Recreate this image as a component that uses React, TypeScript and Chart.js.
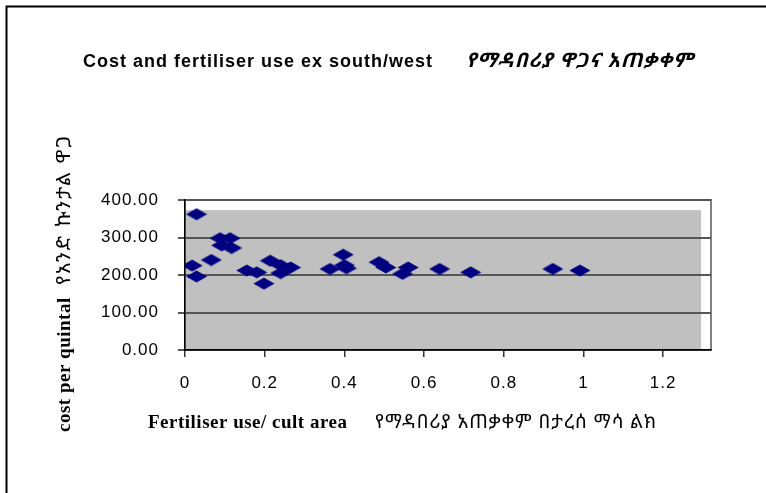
import React, { useEffect, useRef } from "react";
import { Chart, registerables } from "chart.js";

Chart.register(...registerables);

// ---- data ----
const fertiliserUse = [
  0.029, 0.018, 0.029, 0.066, 0.088, 0.113, 0.092, 0.117, 0.155, 0.18, 0.198,
  0.214, 0.24, 0.265, 0.24, 0.364, 0.397, 0.4, 0.405, 0.487, 0.504, 0.546,
  0.56, 0.639, 0.717, 0.923, 0.991,
];
const costPerQuintal = [
  362, 225, 196, 240, 298, 298, 279, 272, 212, 207, 177, 238, 226, 220, 205,
  216, 254, 226, 218, 234, 220, 203, 220, 216, 207, 216, 212,
];

const titleEn = "Cost and fertiliser use ex south/west";
const titleAm = "የማዳበሪያ ዋጋና አጠቃቀም";
const xTitleEn = "Fertiliser use/ cult area";
const xTitleAm = "የማዳበሪያ አጠቃቀም በታረሰ ማሳ ልክ";
const yTitleEn = "cost per quintal";
const yTitleAm = "የአንድ ኩንታል ዋጋ";

const X_MIN = 0;
const X_MAX = 1.32;
const X_STEP = 0.2;
const Y_MIN = 0;
const Y_MAX = 400;
const Y_STEP = 100;
const SHADE_X_MAX = 1.295;
const SHADE_Y_MAX = 373;

const SANS = '"Liberation Sans", Arial, sans-serif';
const SERIF = '"Liberation Serif", "Times New Roman", serif';
const ETH = '"Noto Sans Ethiopic", "Noto Serif Ethiopic", "Abyssinica SIL", "DejaVu Sans", sans-serif';

function makeDiamond(): HTMLCanvasElement {
  const c = document.createElement("canvas");
  c.width = 22;
  c.height = 13;
  const g = c.getContext("2d")!;
  g.fillStyle = "#000080";
  g.beginPath();
  g.moveTo(11, 0.5);
  g.lineTo(21.5, 6.5);
  g.lineTo(11, 12.5);
  g.lineTo(0.5, 6.5);
  g.closePath();
  g.fill();
  return c;
}

const decorPlugin = {
  id: "decor",
  beforeDraw(chart: any) {
    const { ctx, chartArea, scales } = chart;
    const x = scales.x;
    const y = scales.y;
    ctx.save();
    ctx.fillStyle = "#fff";
    ctx.fillRect(0, 0, chart.width, chart.height);
    ctx.strokeStyle = "#000";
    ctx.lineWidth = 2;
    ctx.strokeRect(6.5, 6.5, chart.width + 20, chart.height + 20);
    const l = x.getPixelForValue(X_MIN);
    const r = x.getPixelForValue(SHADE_X_MAX);
    const t = y.getPixelForValue(SHADE_Y_MAX);
    const b = y.getPixelForValue(Y_MIN);
    ctx.fillStyle = "#c0c0c0";
    ctx.fillRect(l, t, r - l, b - t);
    ctx.strokeStyle = "#808080";
    ctx.lineWidth = 2;
    ctx.strokeRect(
      chartArea.left,
      chartArea.top,
      chartArea.right - chartArea.left,
      chartArea.bottom - chartArea.top
    );
    ctx.restore();
    ctx.letterSpacing = "1px";
  },
  afterDraw(chart: any) {
    const { ctx } = chart;
    ctx.save();
    ctx.fillStyle = "#000";
    ctx.textBaseline = "alphabetic";
    ctx.textAlign = "left";
    ctx.letterSpacing = "1px";
    ctx.font = `bold 18px ${SANS}`;
    ctx.fillText(titleEn, 83, 67);
    ctx.letterSpacing = "1px";
    ctx.font = `italic bold 20px ${ETH}`;
    ctx.fillText(titleAm, 466, 67);

    ctx.letterSpacing = "0.5px";
    ctx.font = `bold 19px ${SERIF}`;
    ctx.fillText(xTitleEn, 148, 428);
    ctx.letterSpacing = "1px";
    ctx.font = `19px ${ETH}`;
    ctx.fillText(xTitleAm, 375, 428);

    ctx.translate(69.5, 432);
    ctx.rotate(-Math.PI / 2);
    ctx.letterSpacing = "0.5px";
    ctx.font = `bold 19px ${SERIF}`;
    ctx.fillText(yTitleEn, 0, 0);
    ctx.letterSpacing = "2px";
    ctx.font = `20px ${ETH}`;
    ctx.fillText(yTitleAm, 147, 0);
    ctx.restore();
  },
};

export default function App() {
  const ref = useRef<HTMLCanvasElement | null>(null);
  useEffect(() => {
    if (!ref.current) return;
    const diamond = makeDiamond();
    const chart = new Chart(ref.current, {
      type: "scatter",
      data: {
        datasets: [
          {
            data: fertiliserUse.map((v, i) => ({ x: v, y: costPerQuintal[i] })),
            pointStyle: diamond as any,
            pointRadius: 10,
            backgroundColor: "#000080",
            borderColor: "#000080",
          },
        ],
      },
      options: {
        responsive: false,
        animation: false,
        devicePixelRatio: 1,
        layout: { padding: { top: 200, right: 55, bottom: 0, left: 0 } },
        plugins: {
          legend: { display: false },
          title: { display: false },
          tooltip: { enabled: false },
        },
        scales: {
          x: {
            type: "linear",
            min: X_MIN,
            max: X_MAX,
            afterFit: (s: any) => {
              s.height = 143;
            },
            border: { color: "#000", width: 1.5 },
            grid: {
              drawOnChartArea: false,
              drawTicks: true,
              tickLength: 7,
              color: "#333",
              lineWidth: 1.5,
            },
            ticks: {
              stepSize: X_STEP,
              includeBounds: false,
              padding: 16,
              color: "#000",
              maxRotation: 0,
              autoSkip: false,
              font: { family: SANS, size: 17 },
              callback: (v: any) => String(Math.round(Number(v) * 10) / 10),
            },
          },
          y: {
            type: "linear",
            min: Y_MIN,
            max: Y_MAX,
            afterFit: (s: any) => {
              s.width = 185;
            },
            border: { color: "#000", width: 1.5 },
            grid: { color: "#555", lineWidth: 2, tickLength: 7 },
            ticks: {
              stepSize: Y_STEP,
              padding: 19,
              color: "#000",
              font: { family: SANS, size: 17 },
              callback: (v: any) => Number(v).toFixed(2),
            },
          },
        },
      },
      plugins: [decorPlugin],
    });
    return () => chart.destroy();
  }, []);
  return (
    <div style={{ position: "fixed", left: 0, top: 0, width: 766, height: 493, background: "#fff", overflow: "hidden" }}>
      <canvas ref={ref} width={766} height={493} style={{ display: "block" }} />
    </div>
  );
}
